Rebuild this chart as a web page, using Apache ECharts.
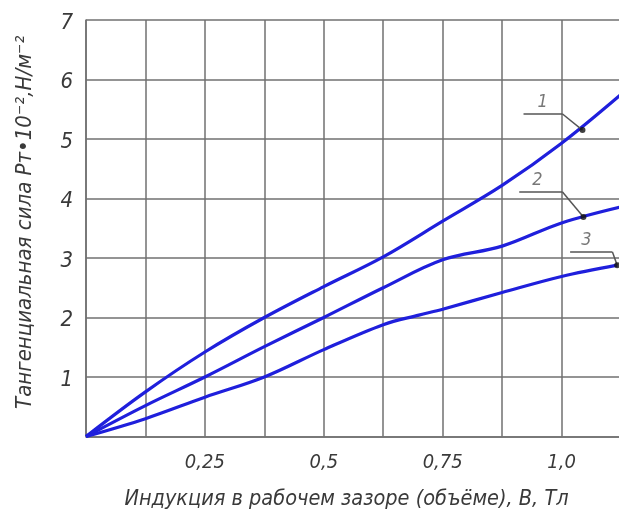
<!DOCTYPE html>
<html><head><meta charset="utf-8">
<script src="https://cdn.jsdelivr.net/npm/echarts@6/dist/echarts.min.js"></script>
<style>html,body{margin:0;padding:0;background:#fff}#c{width:619px;height:522px}</style>
</head><body><div id="c"></div>
<script>
// Data
const xB = [0, 0.125, 0.25, 0.375, 0.5, 0.625, 0.75, 0.875, 1.0, 1.125];
const curve1 = [0, 0.75, 1.42, 2.0, 2.52, 3.02, 3.62, 4.22, 4.93, 5.75];
const curve2 = [0, 0.52, 1.0, 1.51, 2.0, 2.5, 2.97, 3.2, 3.59, 3.86];
const xB3 = [0, 0.125, 0.25, 0.375, 0.5, 0.625, 0.7, 0.75, 0.875, 1.0, 1.117];
const curve3 = [0, 0.30, 0.66, 1.0, 1.46, 1.88, 2.04, 2.14, 2.42, 2.69, 2.88];
const xTickValues = [0.25, 0.5, 0.75, 1.0];
const xTickLabels = ['0,25', '0,5', '0,75', '1,0'];
const yTickLabels = ['', '1', '2', '3', '4', '5', '6', '7'];
// Callouts: label, label position, leader start, leader corner, dot (data units)
const calloutNames = ['1', '2', '3'];
const calloutLabelPos = [[0.960, 5.62], [0.949, 4.31], [1.052, 3.30]];
const calloutStart = [[0.920, 5.42], [0.911, 4.11], [1.018, 3.10]];
const calloutCorner = [[1.002, 5.42], [1.002, 4.11], [1.107, 3.10]];
const calloutDot = [[1.044, 5.15], [1.046, 3.69], [1.117, 2.88]];
const xTitle = 'Индукция в рабочем зазоре (объёме), В, Тл';
const yTitle = 'Тангенциальная сила Рт•10⁻²,Н/м⁻²';

const FONT = '"DejaVu Sans Condensed","Liberation Sans Narrow",sans-serif';
const GRID = '#707070';
const BLUE = '#1f1fdc';
const TXT = '#3a3a3a';

const zip = (xs, ys) => xs.map((x, i) => [x, ys[i]]);
const leaderLines = [];
for (let i = 0; i < calloutNames.length; i++) {
  leaderLines.push([{coord: calloutStart[i]}, {coord: calloutCorner[i]}]);
  leaderLines.push([{coord: calloutCorner[i]}, {coord: calloutDot[i]}]);
}
const curveSeries = (data) => ({
  type: 'line', data, smooth: 0.35, showSymbol: false, clip: true,
  lineStyle: {color: BLUE, width: 3.2}, z: 3
});

const chart = echarts.init(document.getElementById('c'), null, {renderer: 'canvas'});
chart.setOption({
  animation: false,
  backgroundColor: '#fff',
  grid: {left: 86, top: 20, width: 535, height: 416.5, outerBoundsMode: 'none', containLabel: false},
  xAxis: {
    type: 'value', min: 0, max: 1.125, interval: 0.125,
    axisLine: {show: true, lineStyle: {color: GRID, width: 1.5}},
    axisTick: {show: false},
    splitLine: {show: true, lineStyle: {color: GRID, width: 1.5}},
    axisLabel: {
      margin: 16, color: TXT, fontFamily: FONT, fontStyle: 'italic', fontSize: 20,
      formatter: v => { const k = xTickValues.findIndex(t => Math.abs(t - v) < 1e-6); return k >= 0 ? xTickLabels[k] : ''; }
    },
    name: xTitle, nameLocation: 'middle', nameGap: 52,
    nameTextStyle: {color: TXT, fontFamily: FONT, fontStyle: 'italic', fontSize: 21.5, padding: [0, 0, 0, -14]}
  },
  yAxis: {
    type: 'value', min: 0, max: 7, interval: 1,
    axisLine: {show: true, lineStyle: {color: GRID, width: 1.5}},
    axisTick: {show: false},
    splitLine: {show: true, lineStyle: {color: GRID, width: 1.5}},
    axisLabel: {
      margin: 13, color: TXT, fontFamily: FONT, fontStyle: 'italic', fontSize: 22, verticalAlign: 'top', padding: [-8, 0, 0, 0],
      formatter: v => yTickLabels[Math.round(v)] || ''
    },
    name: yTitle, nameLocation: 'middle', nameGap: 50, nameRotate: 90,
    nameTextStyle: {color: TXT, fontFamily: FONT, fontStyle: 'italic', fontSize: 22, padding: [0, 0, 0, 12]}
  },
  series: [
    Object.assign(curveSeries(zip(xB, curve1)), {
      markLine: {silent: true, symbol: 'none', animation: false,
        lineStyle: {color: '#555', width: 1.5, type: 'solid'}, label: {show: false}, data: leaderLines}
    }),
    curveSeries(zip(xB, curve2)),
    curveSeries(zip(xB3, curve3)),
    {
      type: 'scatter', data: calloutDot, symbolSize: 6, itemStyle: {color: '#111'}, z: 5
    },
    {
      type: 'scatter', symbolSize: 0, z: 5,
      data: calloutLabelPos.map((p, i) => ({value: p, name: calloutNames[i]})),
      label: {show: true, position: 'inside', formatter: p => p.name,
        color: '#555', fontFamily: FONT, fontStyle: 'italic', fontSize: 18}
    }
  ]
});
</script>
</body></html>
